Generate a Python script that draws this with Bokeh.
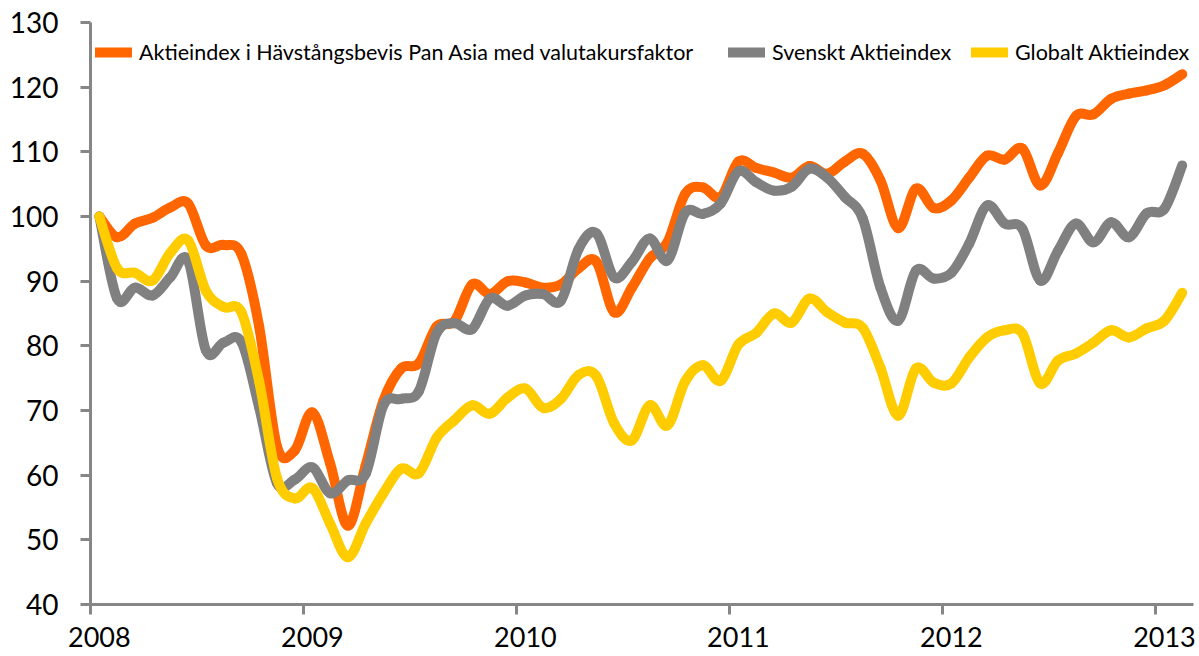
import numpy as np
from bokeh.plotting import figure
from bokeh.models import (FixedTicker, CustomJSTickFormatter, Legend, LegendItem,
                          Range1d, ColumnDataSource)
from bokeh.embed import file_html
from bokeh.resources import INLINE

# ---------------- data (monthly, Jan 2008 .. Feb 2013) ----------------
start_year = 2008
pan_asia = [100, 96.8, 98.9, 99.8, 101.4, 102, 95.5, 95.6, 94.2, 83, 64.5, 63.8,
            69.7, 61.8, 52.2, 61.5, 71.5, 76.5, 77.3, 83, 83.8, 89.5, 88, 90,
            89.8, 89, 89.5, 92, 93, 85.2, 89, 93.5, 96, 103.5, 104.5, 103,
            108.5, 107.5, 106.8, 106, 107.8, 106.6, 108.5, 109.7, 105.6, 98.2, 104.3, 101.3,
            102.5, 106, 109.4, 108.8, 110.5, 104.8, 109.8, 115.5, 115.8, 118.2, 119, 119.5,
            120.3, 122]
svenskt = [100, 87.3, 89, 87.8, 90.6, 93.2, 79.3, 80.5, 80.6, 70.5, 58.8, 59.3,
           61.2, 57.2, 59.2, 60.2, 70.8, 71.8, 73, 82, 83.5, 82.6, 87.3, 86.2,
           87.8, 88, 87, 95, 97.4, 90.6, 93, 96.6, 93.2, 100.6, 100.4, 102,
           107, 105.3, 104, 104.6, 107.4, 106, 103, 99.7, 89, 83.9, 91.6, 90.4,
           91.3, 95.8, 101.7, 98.9, 98.1, 90.1, 94.7, 98.9, 96, 99.1, 96.8, 100.5,
           101.2, 107.9]
globalt = [100, 92, 91.3, 90.1, 94.4, 96.3, 88.5, 86, 85.2, 74.5, 59.6, 56.4,
           58, 52.5, 47.3, 52.5, 57.2, 61, 60.3, 65.8, 68.5, 70.8, 69.5, 72,
           73.4, 70.4, 71.8, 75.5, 75.3, 68, 65.4, 70.8, 67.7, 74.5, 77, 74.6,
           80.2, 82, 85, 83.6, 87.3, 85.2, 83.6, 82.8, 76.6, 69.2, 76.5, 74.3,
           74.2, 78.2, 81.3, 82.4, 81.9, 74.2, 77.7, 78.8, 80.5, 82.4, 81.3, 82.7,
           83.9, 88.2]
series_names = ["Aktieindex i Hävstångsbevis Pan Asia med valutakursfaktor",
                "Svenskt Aktieindex",
                "Globalt Aktieindex"]
year_ticks = [2008, 2009, 2010, 2011, 2012, 2013]
y_ticks = [40, 50, 60, 70, 80, 90, 100, 110, 120, 130]

# ---------------- style ----------------
colors = ["#FF6600", "#808080", "#FFCC00"]
axis_color = "#868686"
font = "Lato"
legend_x = [5, 638, 881]
legend_y = 539

months = np.arange(len(pan_asia))
x = start_year + (months + 0.5) / 12.0


def bezier_source(xs, ys):
    xs = np.asarray(xs, float)
    ys = np.asarray(ys, float)
    n = len(xs)
    xp = np.concatenate([[xs[0]], xs, [xs[-1]]])
    yp = np.concatenate([[ys[0]], ys, [ys[-1]]])
    i = np.arange(n - 1)
    x0, y0 = xs[:-1], ys[:-1]
    x1, y1 = xs[1:], ys[1:]
    cx0 = x0 + (xp[i + 2] - xp[i]) / 6.0
    cy0 = y0 + (yp[i + 2] - yp[i]) / 6.0
    cx1 = x1 - (xp[i + 3] - xp[i + 1]) / 6.0
    cy1 = y1 - (yp[i + 3] - yp[i + 1]) / 6.0
    return ColumnDataSource(dict(x0=x0, y0=y0, x1=x1, y1=y1,
                                 cx0=cx0, cy0=cy0, cx1=cx1, cy1=cy1))


p = figure(width=1199, height=656, output_backend="svg", toolbar_location=None,
           x_range=Range1d(2008, 2013.178), y_range=Range1d(40, 130),
           min_border_left=90, min_border_right=6, min_border_top=22,
           min_border_bottom=52)
p.outline_line_color = None
p.xgrid.visible = False
p.ygrid.visible = False
p.background_fill_color = "white"
p.border_fill_color = "white"

renderers = []
for vals, col in zip([pan_asia, svenskt, globalt], colors):
    src = bezier_source(x, vals)
    r = p.bezier(x0="x0", y0="y0", x1="x1", y1="y1", cx0="cx0", cy0="cy0",
                 cx1="cx1", cy1="cy1", source=src, line_color=col,
                 line_width=10, line_cap="round", line_join="round")
    renderers.append(r)

# x axis: labels centred on mid-January, tick marks at year starts
xa = p.xaxis[0]
xa.ticker = FixedTicker(ticks=[yr + 1 / 24 for yr in year_ticks], minor_ticks=year_ticks)
xa.formatter = CustomJSTickFormatter(code="return Math.floor(tick).toFixed(0);")
xa.major_tick_line_color = None
xa.major_tick_out = 0
xa.major_tick_in = 0
xa.minor_tick_line_color = axis_color
xa.minor_tick_line_width = 3
xa.minor_tick_out = 10
xa.minor_tick_in = 0
xa.axis_line_color = axis_color
xa.axis_line_width = 3
xa.major_label_text_font = font
xa.major_label_text_font_size = "27px"
xa.major_label_text_color = "black"
xa.major_label_standoff = 12

ya = p.yaxis[0]
ya.ticker = FixedTicker(ticks=y_ticks, minor_ticks=[])
ya.major_tick_line_color = axis_color
ya.major_tick_line_width = 3
ya.major_tick_out = 10
ya.major_tick_in = 0
ya.minor_tick_line_color = None
ya.axis_line_color = axis_color
ya.axis_line_width = 3
ya.major_label_text_font = font
ya.major_label_text_font_size = "28px"
ya.major_label_text_color = "black"
ya.major_label_standoff = 22

for r, name, vx in zip(renderers, series_names, legend_x):
    lg = Legend(items=[LegendItem(label=name, renderers=[r])],
                location=(vx, legend_y), orientation="horizontal",
                padding=0, margin=0, spacing=0,
                border_line_color=None, background_fill_alpha=0,
                glyph_width=37, glyph_height=24, label_height=24,
                label_standoff=7, label_text_font=font,
                label_text_font_size="21.5px", label_text_color="black")
    p.add_layout(lg)

open("out.html", "w").write(file_html(p, INLINE))
